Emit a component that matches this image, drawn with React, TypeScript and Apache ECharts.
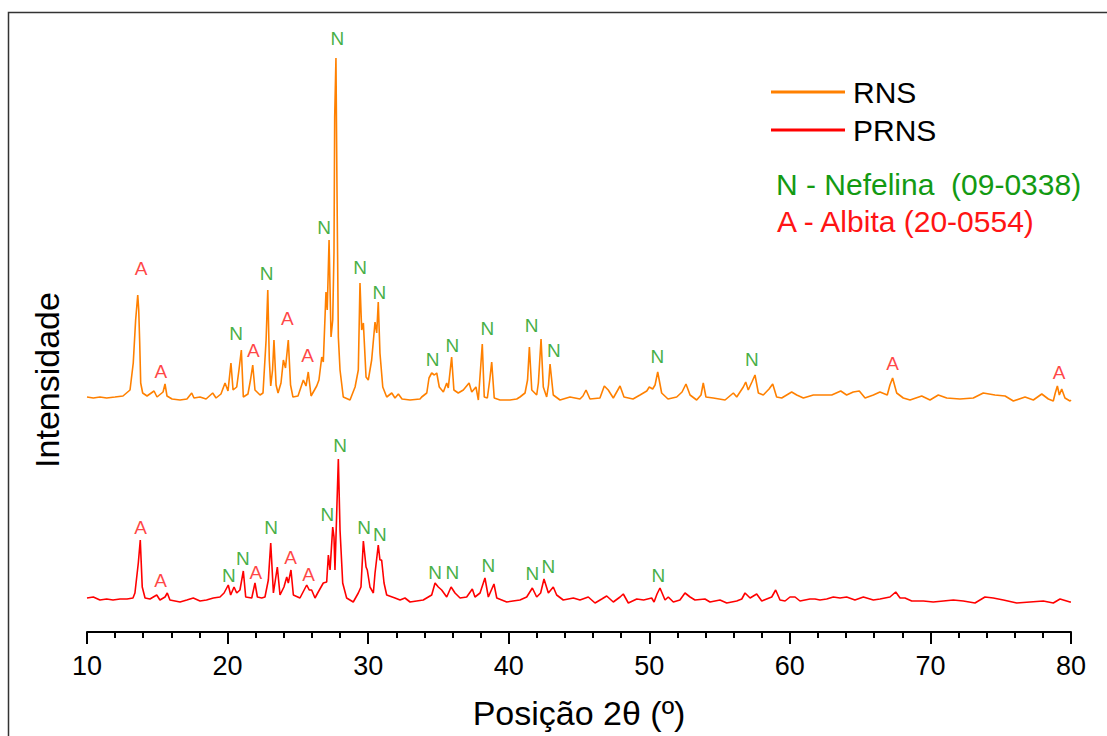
import { useEffect, useRef } from "react";
import * as echarts from "echarts";

const FONT = '"Liberation Sans", Arial, "Noto Sans", sans-serif';

// Vertical offsets that stack the two diffractograms
const RNS_OFFSET = 232;
const PRNS_OFFSET = 30;

// X axis: Posição 2θ (º)
const X_MIN = 10;
const X_MAX = 80;
const X_STEP = 10;

// RNS diffractogram: [2θ, intensity (a.u.)]
const rnsPattern: [number, number][] = [
  [10.0, 3], [10.45, 2], [10.92, 3], [11.4, 2], [11.99, 3], [12.56, 4], [13.06, 10], [13.29, 37],
  [13.46, 80], [13.61, 105], [13.68, 90], [13.75, 57], [13.82, 17], [13.96, 7], [14.27, 4], [14.77, 9],
  [14.98, 3], [15.41, 8], [15.55, 16], [15.69, 4], [16.05, 1], [16.62, 0], [17.11, 1], [17.45, 7],
  [17.61, 2], [18.04, 3], [18.47, 1], [18.94, 7], [19.18, 2], [19.53, 6], [19.82, 17], [20.03, 9],
  [20.24, 37], [20.39, 10], [20.65, 13], [20.81, 30], [20.98, 50], [21.12, 3], [21.45, 6], [21.63, 20],
  [21.79, 35], [21.95, 10], [22.31, 5], [22.52, 7], [22.74, 60], [22.86, 110], [22.97, 40], [23.07, 14],
  [23.2, 30], [23.3, 60], [23.45, 15], [23.59, 7], [23.8, 17], [23.97, 40], [24.12, 32], [24.32, 60],
  [24.48, 15], [24.65, 3], [25.01, 4], [25.39, 20], [25.58, 14], [25.74, 28], [25.94, 4], [26.34, 14],
  [26.5, 20], [26.7, 43], [26.81, 38], [27.0, 108], [27.09, 90], [27.22, 160], [27.36, 63], [27.48, 80],
  [27.57, 147], [27.62, 283], [27.71, 342], [27.78, 217], [27.88, 63], [28.0, 30], [28.23, 3], [28.71, 0],
  [29.07, 13], [29.3, 30], [29.42, 117], [29.54, 70], [29.66, 77], [29.85, 23], [30.01, 20], [30.25, 40],
  [30.49, 78], [30.61, 67], [30.72, 98], [30.84, 47], [31.04, 13], [31.32, 3], [31.68, 7], [31.91, 2],
  [32.15, 6], [32.41, 1], [32.98, 0], [33.69, 1], [33.81, 3], [34.17, 7], [34.33, 22], [34.52, 27],
  [34.71, 25], [34.88, 27], [35.06, 13], [35.35, 8], [35.59, 17], [35.7, 12], [35.94, 43], [36.1, 10],
  [36.41, 7], [36.77, 10], [37.18, 17], [37.37, 8], [37.67, 13], [37.84, 0], [37.99, 30], [38.12, 56],
  [38.26, 3], [38.48, 2], [38.65, 20], [38.79, 38], [38.97, 2], [39.38, 0], [40.09, 0], [40.57, 1],
  [40.8, 3], [41.16, 7], [41.34, 20], [41.47, 53], [41.64, 10], [41.99, 5], [42.11, 17], [42.3, 61],
  [42.46, 13], [42.7, 3], [42.83, 15], [42.94, 36], [43.17, 5], [43.65, 0], [44.36, 3], [45.07, 1],
  [45.28, 4], [45.5, 10], [45.78, 1], [46.49, 2], [46.8, 14], [47.08, 10], [47.44, 2], [47.92, 14],
  [48.2, 3], [48.84, 1], [49.34, 5], [49.82, 9], [50.0, 13], [50.24, 11], [50.41, 15], [50.6, 28],
  [50.88, 7], [51.33, 1], [51.95, 3], [52.33, 8], [52.61, 16], [52.9, 5], [53.37, 0], [53.68, 5],
  [53.84, 17], [54.03, 3], [54.55, 2], [55.39, 0], [55.98, 7], [56.22, 3], [56.69, 13], [56.86, 18],
  [57.04, 10], [57.3, 18], [57.52, 25], [57.76, 7], [58.11, 5], [58.52, 11], [58.78, 16], [59.06, 3],
  [59.42, 2], [60.13, 8], [60.49, 5], [60.96, 2], [61.67, 5], [62.38, 5], [62.98, 5], [63.62, 9],
  [64.04, 5], [64.51, 8], [64.94, 9], [65.35, 2], [65.94, 5], [66.41, 8], [66.93, 5], [67.12, 15],
  [67.31, 22], [67.6, 7], [68.07, 2], [68.55, 0], [69.38, 4], [69.97, 0], [70.56, 5], [71.16, 2],
  [72.1, 1], [73.05, 2], [73.76, 7], [74.59, 5], [75.31, 4], [75.9, -1], [76.73, 3], [77.32, 0],
  [77.92, 6], [78.39, 1], [78.74, -1], [78.88, 7], [79.03, 14], [79.17, 5], [79.34, 11], [79.57, 2],
  [79.93, -1], [80.0, 0],
];

// PRNS diffractogram: [2θ, intensity (a.u.)]
const prnsPattern: [number, number][] = [
  [10.0, 4], [10.45, 5], [10.92, 2], [11.4, 3], [11.85, 2], [12.35, 3], [12.85, 3], [13.27, 4],
  [13.41, 9], [13.65, 39], [13.79, 62], [13.93, 15], [14.13, 4], [14.48, 3], [14.96, 7], [15.19, 2],
  [15.55, 5], [15.71, 9], [15.9, 2], [16.62, 0], [17.1, 2], [17.56, 4], [18.04, 1], [18.5, 2],
  [18.99, 4], [19.46, 5], [19.75, 9], [20.05, 17], [20.22, 7], [20.46, 15], [20.65, 9], [20.88, 12],
  [21.12, 31], [21.29, 5], [21.72, 4], [21.95, 19], [22.12, 5], [22.43, 4], [22.66, 5], [22.9, 22],
  [23.07, 59], [23.26, 9], [23.54, 35], [23.73, 7], [24.01, 15], [24.21, 25], [24.32, 19], [24.51, 32],
  [24.68, 7], [25.15, 4], [25.63, 17], [25.81, 12], [25.98, 12], [26.22, 4], [26.45, 10], [26.81, 19],
  [27.05, 20], [27.17, 47], [27.29, 32], [27.48, 75], [27.57, 65], [27.64, 32], [27.88, 143], [28.0, 72],
  [28.19, 19], [28.47, 4], [28.94, 0], [29.3, 9], [29.49, 15], [29.66, 61], [29.85, 35], [29.94, 32],
  [30.13, 15], [30.37, 9], [30.49, 29], [30.72, 57], [30.84, 42], [30.96, 42], [31.13, 19], [31.32, 7],
  [31.91, 4], [32.27, 2], [32.62, 4], [32.98, 0], [33.45, 1], [33.92, 2], [34.52, 7], [34.76, 19],
  [34.99, 15], [35.23, 12], [35.59, 5], [35.9, 15], [36.18, 9], [36.54, 4], [37.01, 5], [37.41, 13],
  [37.6, 5], [37.96, 9], [38.31, 24], [38.55, 5], [38.95, 18], [39.15, 4], [39.86, 0], [40.3, 1],
  [40.8, 2], [41.28, 5], [41.68, 14], [41.99, 5], [42.27, 9], [42.51, 23], [42.82, 9], [43.17, 15],
  [43.41, 7], [43.88, 2], [44.6, 4], [45.07, 2], [45.66, 5], [46.14, -1], [46.62, 3], [46.97, 6],
  [47.44, 0], [47.92, 5], [48.15, 8], [48.51, -1], [49.11, 3], [49.6, 2], [50.17, 4], [50.34, 0],
  [50.55, 8], [50.76, 14], [51.12, 2], [51.35, 5], [51.71, 0], [52.18, 2], [52.54, 9], [52.9, 5],
  [53.25, 2], [53.96, 3], [54.32, 0], [55.03, 2], [55.51, -1], [56.22, 1], [56.58, 3], [56.81, 9],
  [57.17, 4], [57.64, 8], [58.0, 1], [58.35, 3], [58.71, 5], [58.99, 12], [59.3, 2], [59.66, 1],
  [60.01, 5], [60.37, 5], [60.72, 1], [61.43, 3], [61.79, 3], [62.14, 2], [62.62, 3], [63.09, 5],
  [63.57, 4], [64.04, 5], [64.63, 2], [65.23, 5], [65.94, 2], [66.41, 3], [67.12, 5], [67.53, 10],
  [67.84, 4], [68.19, 4], [68.67, 1], [69.5, 1], [70.2, 0], [70.92, 1], [71.63, 2], [72.34, 1],
  [73.17, -1], [73.88, 5], [74.47, 4], [75.19, 2], [76.14, -1], [77.08, 0], [78.03, 1], [78.74, -1],
  [79.22, 3], [79.93, 0], [80.0, 0],
];

// Phase identification marks: [2θ, phase, label level (a.u.)]
const rnsPeaks: [number, string, number][] = [
  [13.84, "A", 132], [15.26, "A", 29], [20.6, "N", 67], [21.83, "A", 50], [22.78, "N", 127],
  [24.25, "A", 82], [25.7, "A", 45], [26.86, "N", 173], [27.81, "N", 362], [29.42, "N", 133],
  [30.8, "N", 108], [34.59, "N", 41], [35.99, "N", 55], [38.48, "N", 72], [41.63, "N", 75],
  [43.22, "N", 50], [50.57, "N", 44], [57.29, "N", 41], [67.31, "A", 37], [79.15, "A", 28],
];

const prnsPeaks: [number, string, number][] = [
  [13.82, "A", 75], [15.24, "A", 22], [20.1, "N", 27], [21.08, "N", 44], [22.02, "A", 30],
  [23.09, "N", 75], [24.49, "A", 45], [25.77, "A", 28], [27.09, "N", 88], [28.0, "N", 157],
  [29.71, "N", 75], [30.84, "N", 68], [34.76, "N", 30], [35.99, "N", 30], [38.55, "N", 37],
  [41.68, "N", 29], [42.82, "N", 36], [50.64, "N", 27],
];

const phaseColor: Record<string, string> = { N: "#139A13", A: "#FF1414" };
const phaseLegend = ["N - Nefelina  (09-0338)", "A - Albita (20-0554)"];

const RNS_COLOR = "#FF8000";
const PRNS_COLOR = "#FF0000";

function shifted(pattern: [number, number][], offset: number) {
  return pattern.map(([x, y]) => [x, y + offset]);
}

function peakLabels(peaks: [number, string, number][], offset: number) {
  return peaks.map(([x, phase, level]) => ({
    value: [x, level + offset],
    name: phase,
    label: { color: phaseColor[phase] },
  }));
}

function labelSeries(peaks: [number, string, number][], offset: number) {
  return {
    type: "scatter",
    data: peakLabels(peaks, offset),
    symbolSize: 1,
    itemStyle: { color: "rgba(0,0,0,0)" },
    silent: true,
    clip: false,
    z: 5,
    label: {
      show: true,
      position: "inside",
      formatter: "{b}",
      fontSize: 19,
      fontFamily: FONT,
    },
  };
}

export default function App() {
  const ref = useRef<HTMLDivElement>(null);

  useEffect(() => {
    if (!ref.current) return;
    const chart = echarts.init(ref.current, null, { renderer: "svg" });
    chart.setOption({
      animation: false,
      backgroundColor: "#ffffff",
      textStyle: { fontFamily: FONT },
      grid: { left: 87, right: 36, top: 32, bottom: 104 },
      legend: {
        data: ["RNS", "PRNS"],
        orient: "vertical",
        left: 766,
        top: 72,
        icon: "rect",
        itemWidth: 74,
        itemHeight: 3,
        itemGap: 8,
        selectedMode: false,
        textStyle: { fontSize: 30, color: "#000", lineHeight: 30, padding: [0, 0, 0, 3], fontFamily: FONT },
      },
      xAxis: {
        type: "value",
        min: X_MIN,
        max: X_MAX,
        interval: X_STEP,
        name: "Posição 2θ (º)",
        nameLocation: "middle",
        nameGap: 64,
        nameTextStyle: { fontSize: 34, color: "#000", fontFamily: FONT },
        axisLine: { show: true, onZero: false, lineStyle: { color: "#000", width: 2 } },
        axisTick: { show: true, length: 12, lineStyle: { color: "#000", width: 2 } },
        minorTick: { show: true, splitNumber: 5, length: 6, lineStyle: { color: "#000", width: 2 } },
        axisLabel: { fontSize: 27, color: "#000", margin: 20, fontFamily: FONT },
        splitLine: { show: false },
      },
      yAxis: {
        type: "value",
        min: 0,
        max: 600,
        name: "Intensidade",
        nameLocation: "middle",
        nameRotate: 90,
        nameGap: 23,
        nameTextStyle: { fontSize: 34, color: "#000", fontFamily: FONT, padding: [0, 96, 0, 0] },
        axisLine: { show: false },
        axisTick: { show: false },
        axisLabel: { show: false },
        splitLine: { show: false },
      },
      graphic: [
        {
          type: "rect",
          silent: true,
          z: -1,
          shape: { x: 8.5, y: 12.5, width: 1200, height: 800 },
          style: { fill: "none", stroke: "#333", lineWidth: 1.5 },
        },
        {
          type: "text",
          x: 776,
          y: 184,
          silent: true,
          style: {
            text: phaseLegend[0],
            fill: phaseColor.N,
            fontSize: 30,
            fontFamily: FONT,
            verticalAlign: "middle",
          },
        },
        {
          type: "text",
          x: 777,
          y: 221,
          silent: true,
          style: {
            text: phaseLegend[1],
            fill: phaseColor.A,
            fontSize: 30,
            fontFamily: FONT,
            verticalAlign: "middle",
          },
        },
      ],
      series: [
        {
          name: "RNS",
          type: "line",
          data: shifted(rnsPattern, RNS_OFFSET),
          showSymbol: false,
          symbol: "none",
          color: RNS_COLOR,
          lineStyle: { color: RNS_COLOR, width: 1.6 },
          silent: true,
        },
        {
          name: "PRNS",
          type: "line",
          data: shifted(prnsPattern, PRNS_OFFSET),
          showSymbol: false,
          symbol: "none",
          color: PRNS_COLOR,
          lineStyle: { color: PRNS_COLOR, width: 1.6 },
          silent: true,
        },
        labelSeries(rnsPeaks, RNS_OFFSET),
        labelSeries(prnsPeaks, PRNS_OFFSET),
      ],
    });
    return () => chart.dispose();
  }, []);

  return (
    <div
      ref={ref}
      style={{ position: "fixed", left: 0, top: 0, width: 1107, height: 736, background: "#fff" }}
    />
  );
}
